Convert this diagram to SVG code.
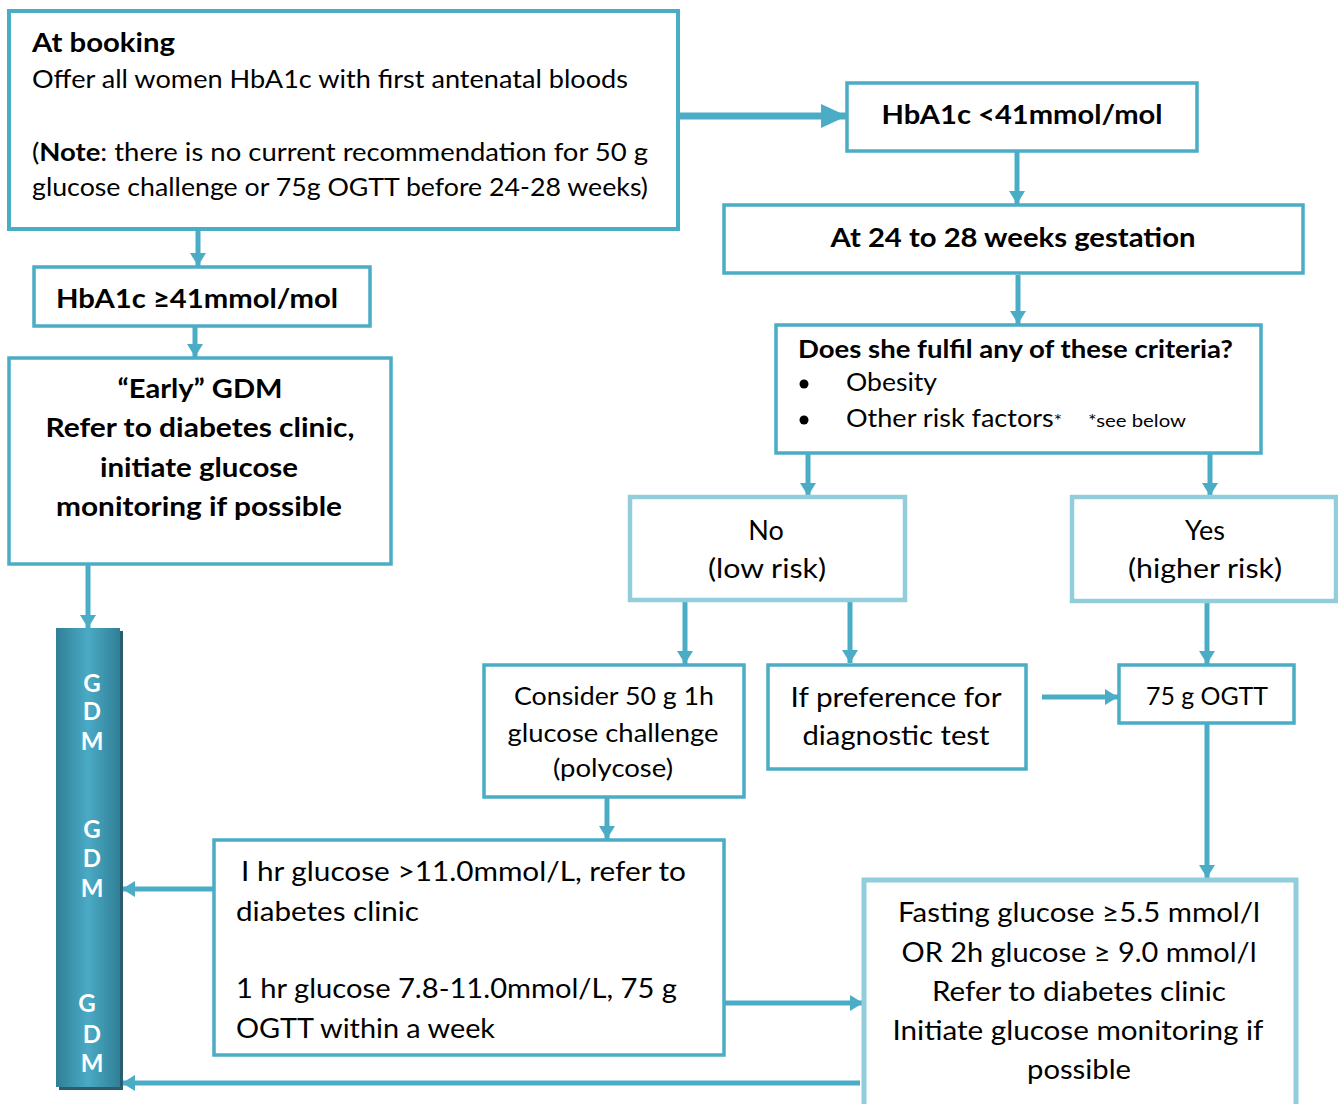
<svg xmlns="http://www.w3.org/2000/svg" width="1338" height="1104" viewBox="0 0 1338 1104">
<style>
.box{fill:#fff;stroke:#4BACC6;stroke-width:3.5}
.lbox{fill:#fff;stroke:#92CDDC;stroke-width:4.5}
.c{stroke:#4BACC6;stroke-width:5;fill:none}
text{font-family:Lato,"Liberation Sans",sans-serif;fill:#000;font-size:25px}
.b{font-weight:bold}
.m{text-anchor:middle}
.g{fill:#fff;font-weight:bold;font-size:24px;text-anchor:middle}
</style>
<defs>
<marker id="ah" markerUnits="userSpaceOnUse" markerWidth="13" markerHeight="16" refX="13" refY="8" orient="auto">
<path d="M0,0 L13,8 L0,16 z" fill="#4BACC6"/>
</marker>
<marker id="ahb" markerUnits="userSpaceOnUse" markerWidth="26" markerHeight="24" refX="26" refY="12" orient="auto">
<path d="M0,0 L26,12 L0,24 z" fill="#4BACC6"/>
</marker>
<linearGradient id="bar" x1="0" y1="0" x2="1" y2="0">
<stop offset="0" stop-color="#2F7F96"/>
<stop offset="0.5" stop-color="#4BAAC5"/>
<stop offset="1" stop-color="#2F7F96"/>
</linearGradient>
</defs>

<g id="connectors">
<line class="c" x1="678" y1="116" x2="847" y2="116" marker-end="url(#ahb)" style="stroke-width:7"/>
<line class="c" x1="1017" y1="151" x2="1017" y2="204" marker-end="url(#ah)"/>
<line class="c" x1="1018" y1="275" x2="1018" y2="324" marker-end="url(#ah)"/>
<line class="c" x1="808" y1="454" x2="808" y2="496" marker-end="url(#ah)"/>
<line class="c" x1="1210" y1="454" x2="1210" y2="496" marker-end="url(#ah)"/>
<line class="c" x1="685" y1="601" x2="685" y2="664" marker-end="url(#ah)"/>
<line class="c" x1="850" y1="601" x2="850" y2="663" marker-end="url(#ah)"/>
<line class="c" x1="1207" y1="601" x2="1207" y2="664" marker-end="url(#ah)"/>
<line class="c" x1="1042" y1="697" x2="1118" y2="697" marker-end="url(#ah)"/>
<line class="c" x1="1207" y1="723" x2="1207" y2="878" marker-end="url(#ah)"/>
<line class="c" x1="607" y1="797" x2="607" y2="839" marker-end="url(#ah)"/>
<line class="c" x1="214" y1="889" x2="122" y2="889" marker-end="url(#ah)"/>
<line class="c" x1="724" y1="1003" x2="863" y2="1003" marker-end="url(#ah)"/>
<line class="c" x1="860" y1="1083" x2="122" y2="1083" marker-end="url(#ah)"/>
<line class="c" x1="198" y1="229" x2="198" y2="266" marker-end="url(#ah)"/>
<line class="c" x1="195" y1="326" x2="195" y2="357" marker-end="url(#ah)"/>
<line class="c" x1="88" y1="564" x2="88" y2="628" marker-end="url(#ah)"/>
</g>

<g id="booking">
<rect class="box" x="9" y="11" width="669" height="218" style="stroke-width:4"/>
<text class="b" x="32" y="52" style="font-size:27px" textLength="143" lengthAdjust="spacingAndGlyphs">At booking</text>
<text x="32" y="88" textLength="596" lengthAdjust="spacingAndGlyphs">Offer all women HbA1c with first antenatal bloods</text>
<text x="32" y="161" textLength="616" lengthAdjust="spacingAndGlyphs">(<tspan class="b">Note</tspan>: there is no current recommendation for 50 g</text>
<text x="32" y="196" textLength="616" lengthAdjust="spacingAndGlyphs">glucose challenge or 75g OGTT before 24-28 weeks)</text>
</g>

<g id="hba1c-low">
<rect class="box" x="847" y="83" width="350" height="68"/>
<text class="b m" x="1022" y="124" style="font-size:27px" textLength="281" lengthAdjust="spacingAndGlyphs">HbA1c &lt;41mmol/mol</text>
</g>

<g id="weeks">
<rect class="box" x="724" y="205" width="579" height="68"/>
<text class="b m" x="1013" y="247" style="font-size:27px" textLength="365" lengthAdjust="spacingAndGlyphs">At 24 to 28 weeks gestation</text>
</g>

<g id="criteria">
<rect class="box" x="776" y="325" width="485" height="128"/>
<text class="b" x="798" y="358" textLength="435" lengthAdjust="spacingAndGlyphs">Does she fulfil any of these criteria?</text>
<circle cx="804" cy="384" r="4.5"/>
<circle cx="804" cy="420" r="4.5"/>
<text x="846" y="391" textLength="91" lengthAdjust="spacingAndGlyphs">Obesity</text>
<text x="846" y="427" textLength="216" lengthAdjust="spacingAndGlyphs">Other risk factors<tspan style="font-size:18px">*</tspan></text>
<text x="1088" y="427" style="font-size:18px" textLength="98" lengthAdjust="spacingAndGlyphs">*see below</text>
</g>

<g id="no">
<rect class="lbox" x="630" y="497" width="275" height="103"/>
<text class="m" x="766" y="540" style="font-size:27px">No</text>
<text class="m" x="767" y="578" style="font-size:27px" textLength="118" lengthAdjust="spacingAndGlyphs">(low risk)</text>
</g>

<g id="yes">
<rect class="lbox" x="1072" y="497" width="264" height="104"/>
<text class="m" x="1205" y="540" style="font-size:27px">Yes</text>
<text class="m" x="1205" y="578" style="font-size:27px" textLength="154" lengthAdjust="spacingAndGlyphs">(higher risk)</text>
</g>

<g id="consider">
<rect class="box" x="484" y="665" width="260" height="132"/>
<text class="m" x="614" y="705" textLength="200" lengthAdjust="spacingAndGlyphs">Consider 50 g 1h</text>
<text class="m" x="613" y="742" textLength="211" lengthAdjust="spacingAndGlyphs">glucose challenge</text>
<text class="m" x="613" y="777" textLength="120" lengthAdjust="spacingAndGlyphs">(polycose)</text>
</g>

<g id="preference">
<rect class="box" x="768" y="665" width="258" height="104"/>
<text class="m" x="896" y="707" style="font-size:27px" textLength="211" lengthAdjust="spacingAndGlyphs">If preference for</text>
<text class="m" x="896" y="745" style="font-size:27px" textLength="187" lengthAdjust="spacingAndGlyphs">diagnostic test</text>
</g>

<g id="ogtt">
<rect class="box" x="1119" y="665" width="175" height="58"/>
<text class="m" x="1207" y="705" textLength="122" lengthAdjust="spacingAndGlyphs">75 g OGTT</text>
</g>

<g id="fasting">
<rect class="lbox" x="864" y="880" width="432" height="240" style="stroke-width:5"/>
<text class="m" x="1079" y="922" style="font-size:27px" textLength="362" lengthAdjust="spacingAndGlyphs">Fasting glucose ≥5.5 mmol/l</text>
<text class="m" x="1079" y="962" style="font-size:27px" textLength="355" lengthAdjust="spacingAndGlyphs">OR 2h glucose ≥ 9.0 mmol/l</text>
<text class="m" x="1079" y="1001" style="font-size:27px" textLength="294" lengthAdjust="spacingAndGlyphs">Refer to diabetes clinic</text>
<text class="m" x="1078" y="1040" style="font-size:27px" textLength="371" lengthAdjust="spacingAndGlyphs">Initiate glucose monitoring if</text>
<text class="m" x="1079" y="1079" style="font-size:27px" textLength="104" lengthAdjust="spacingAndGlyphs">possible</text>
</g>

<g id="challenge-result">
<rect class="box" x="214" y="840" width="510" height="215"/>
<text x="241" y="881" style="font-size:27px" textLength="445" lengthAdjust="spacingAndGlyphs">I hr glucose &gt;11.0mmol/L, refer to</text>
<text x="236" y="921" style="font-size:27px" textLength="183" lengthAdjust="spacingAndGlyphs">diabetes clinic</text>
<text x="236" y="998" style="font-size:27px" textLength="441" lengthAdjust="spacingAndGlyphs">1 hr glucose 7.8-11.0mmol/L, 75 g</text>
<text x="236" y="1038" style="font-size:27px" textLength="259" lengthAdjust="spacingAndGlyphs">OGTT within a week</text>
</g>

<g id="hba1c-high">
<rect class="box" x="34" y="267" width="336" height="59"/>
<text class="b" x="56" y="308" style="font-size:27px" textLength="282" lengthAdjust="spacingAndGlyphs">HbA1c ≥41mmol/mol</text>
</g>

<g id="early-gdm">
<rect class="box" x="9" y="358" width="382" height="206"/>
<text class="b m" x="200" y="398" style="font-size:27px" textLength="165" lengthAdjust="spacingAndGlyphs">“Early” GDM</text>
<text class="b m" x="200" y="437" style="font-size:27px" textLength="309" lengthAdjust="spacingAndGlyphs">Refer to diabetes clinic,</text>
<text class="b m" x="199" y="477" style="font-size:27px" textLength="198" lengthAdjust="spacingAndGlyphs">initiate glucose</text>
<text class="b m" x="199" y="516" style="font-size:27px" textLength="286" lengthAdjust="spacingAndGlyphs">monitoring if possible</text>
</g>

<g id="gdm-bar">
<rect x="59" y="631" width="64" height="459" fill="#285E70"/>
<rect x="56" y="628" width="64" height="459" fill="url(#bar)"/>
<text class="g" x="92" y="692">G</text>
<text class="g" x="92" y="720">D</text>
<text class="g" x="92" y="750">M</text>
<text class="g" x="92" y="838">G</text>
<text class="g" x="92" y="867">D</text>
<text class="g" x="92" y="897">M</text>
<text class="g" x="87" y="1012">G</text>
<text class="g" x="92" y="1043">D</text>
<text class="g" x="92" y="1072">M</text>
</g>
</svg>
